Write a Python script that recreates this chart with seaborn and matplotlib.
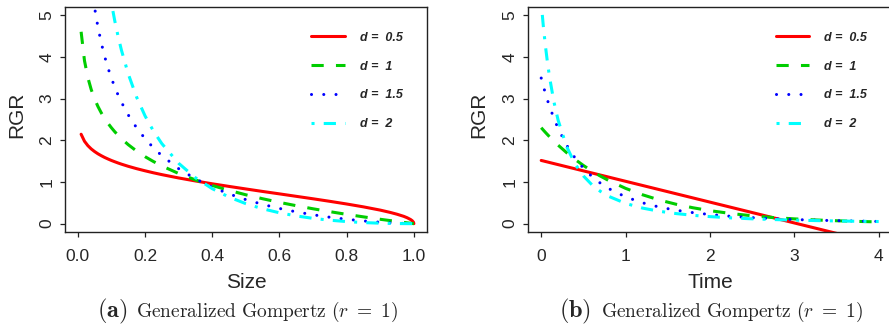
import numpy as np
import pandas as pd
import matplotlib
matplotlib.use("Agg")
import matplotlib.pyplot as plt
import seaborn as sns

# === DATA ===
size = [0.01, 0.02, 0.03, 0.04, 0.05, 0.06, 0.07, 0.08, 0.09, 0.10, 0.11, 0.12, 0.13,
        0.15, 0.175, 0.20, 0.225, 0.25, 0.30, 0.35, 0.40, 0.45, 0.50, 0.55, 0.60,
        0.65, 0.70, 0.75, 0.80, 0.85, 0.90, 0.93, 0.95, 0.97, 0.98, 0.99, 0.995,
        0.999, 1.0]
rgr_size_d05 = [2.146, 1.978, 1.873, 1.794, 1.731, 1.677, 1.631, 1.589, 1.552, 1.517,
                1.486, 1.456, 1.428, 1.377, 1.320, 1.269, 1.221, 1.177, 1.097, 1.025,
                0.957, 0.894, 0.833, 0.773, 0.715, 0.656, 0.597, 0.536, 0.472, 0.403,
                0.325, 0.269, 0.226, 0.175, 0.142, 0.100, 0.071, 0.032, 0.0]
rgr_size_d1 = [4.605, 3.912, 3.507, 3.219, 2.996, 2.813, 2.659, 2.526, 2.408, 2.303,
               2.207, 2.120, 2.040, 1.897, 1.743, 1.609, 1.492, 1.386, 1.204, 1.050,
               0.916, 0.799, 0.693, 0.598, 0.511, 0.431, 0.357, 0.288, 0.223, 0.163,
               0.105, 0.073, 0.051, 0.030, 0.020, 0.010, 0.005, 0.001, 0.0]
rgr_size_d15 = [9.883, 7.738, 6.568, 5.775, 5.186, 4.718, 4.337, 4.013, 3.737, 3.493,
                3.280, 3.087, 2.914, 2.612, 2.301, 2.042, 1.822, 1.632, 1.321, 1.076,
                0.877, 0.714, 0.577, 0.462, 0.365, 0.283, 0.213, 0.154, 0.105, 0.065,
                0.034, 0.020, 0.012, 0.005, 0.003, 0.001, 0.0004, 0.0, 0.0]
rgr_size_d2 = [21.208, 15.304, 12.296, 10.361, 8.974, 7.915, 7.072, 6.379, 5.798, 5.302,
               4.872, 4.496, 4.162, 3.599, 3.038, 2.590, 2.225, 1.922, 1.450, 1.102,
               0.840, 0.638, 0.480, 0.357, 0.261, 0.186, 0.127, 0.083, 0.050, 0.026,
               0.011, 0.005, 0.003, 0.001, 0.0004, 0.0001, 0.0, 0.0, 0.0]

time = [0.0, 0.025, 0.05, 0.075, 0.1, 0.15, 0.2, 0.3, 0.4, 0.5, 0.6, 0.7, 0.8, 1.0,
        1.2, 1.4, 1.6, 1.8, 2.0, 2.25, 2.5, 2.75, 3.0, 3.25, 3.5, 3.75, 4.0]
rgr_time_d05 = [1.517, 1.505, 1.492, 1.480, 1.467, 1.442, 1.417, 1.367, 1.317, 1.267,
                1.217, 1.167, 1.117, 1.017, 0.917, 0.817, 0.717, 0.617, 0.517, 0.392,
                0.267, 0.142, 0.017, -0.108, -0.233, -0.358, -0.483]
rgr_time_d1 = [2.303, 2.246, 2.190, 2.136, 2.083, 1.982, 1.885, 1.706, 1.543, 1.397,
               1.264, 1.143, 1.035, 0.847, 0.694, 0.568, 0.465, 0.381, 0.312, 0.243,
               0.189, 0.147, 0.115, 0.089, 0.070, 0.054, 0.042]
rgr_time_d15 = [3.494, 3.303, 3.125, 2.960, 2.806, 2.529, 2.287, 1.889, 1.578, 1.331,
                1.134, 0.974, 0.842, 0.642, 0.501, 0.398, 0.322, 0.264, 0.219, 0.176,
                0.144, 0.119, 0.099, 0.084, 0.072, 0.062, 0.053]
rgr_time_d2 = [5.302, 4.740, 4.264, 3.855, 3.503, 2.929, 2.486, 1.855, 1.437, 1.146,
               0.935, 0.777, 0.656, 0.486, 0.374, 0.297, 0.242, 0.200, 0.169, 0.139,
               0.116, 0.099, 0.085, 0.074, 0.065, 0.057, 0.051]

labels = ["d =  0.5", "d =  1", "d =  1.5", "d =  2"]
colors = ["#FF0000", "#00CD00", "#0000FF", "#00FFFF"]
styles = ["-", (0, (4, 4)), (0, (0.01, 4)), (0, (1, 3, 4, 3))]
caps = ["butt", "butt", "round", "butt"]

# === STYLE ===
sns.set_style("ticks")
plt.rcParams["font.family"] = ["Liberation Sans", "DejaVu Sans"]
plt.rcParams["mathtext.fontset"] = "cm"

fig = plt.figure(figsize=(8.89, 3.28), dpi=100)
ax1 = fig.add_axes([0.0731, 0.2927, 0.4072, 0.686])
ax2 = fig.add_axes([0.5936, 0.2927, 0.4100, 0.686])


def draw_panel(ax, x, series, xlabel, xlim, xticks, xticklabels):
    for vals, lab, col, ls, cap in zip(series, labels, colors, styles, caps):
        sns.lineplot(x=x, y=vals, ax=ax, color=col, lw=2.2, linestyle=ls,
                     dash_capstyle=cap, label=lab, sort=False, estimator=None)
    ax.set_xlim(*xlim)
    ax.set_ylim(-0.2, 5.2)
    ax.set_xticks(xticks)
    ax.set_xticklabels(xticklabels)
    ax.set_yticks([0, 1, 2, 3, 4, 5])
    ax.tick_params(axis="both", direction="out", length=3.6, width=0.9,
                   color="#222222", labelsize=12.5)
    ax.tick_params(axis="x", pad=9)
    ax.tick_params(axis="y", pad=4)
    for lbl in ax.get_yticklabels():
        lbl.set_rotation(90)
        lbl.set_va("center")
    for sp in ax.spines.values():
        sp.set_visible(True)
        sp.set_linewidth(1.0)
        sp.set_color("#222222")
    ax.set_xlabel(xlabel, fontsize=15, va="center")
    ax.set_ylabel("RGR", fontsize=15, va="center")
    ax.xaxis.set_label_coords(0.5, -0.225)
    ax.yaxis.set_label_coords(-0.133, 0.52)
    ax.legend(loc="upper left", bbox_to_anchor=(0.68, 0.89), frameon=False,
              borderaxespad=0, borderpad=0, handlelength=2.7, handletextpad=1.2,
              labelspacing=1.35,
              prop=dict(family="Liberation Sans", weight="bold", style="italic", size=9))


draw_panel(ax1, size, [rgr_size_d05, rgr_size_d1, rgr_size_d15, rgr_size_d2],
           "Size", (-0.038, 1.039), [0, 0.2, 0.4, 0.6, 0.8, 1.0],
           ["0.0", "0.2", "0.4", "0.6", "0.8", "1.0"])
draw_panel(ax2, time, [rgr_time_d05, rgr_time_d1, rgr_time_d15, rgr_time_d2],
           "Time", (-0.16, 4.16), [0, 1, 2, 3, 4], ["0", "1", "2", "3", "4"])

# captions under each panel
for tag, x_tag, x_txt in [("a", 0.1429, 0.153), ("b", 0.6645, 0.6758)]:
    fig.text(x_tag, 0.05, r"$\mathbf{(" + tag + r")}$", ha="right", va="center",
             fontsize=17.5)
    fig.text(x_txt, 0.05, r"$\mathrm{Generalized\ Gompertz}\ (r\ =\ 1)$",
             ha="left", va="center", fontsize=14)

fig.savefig("out.png", dpi=100)
